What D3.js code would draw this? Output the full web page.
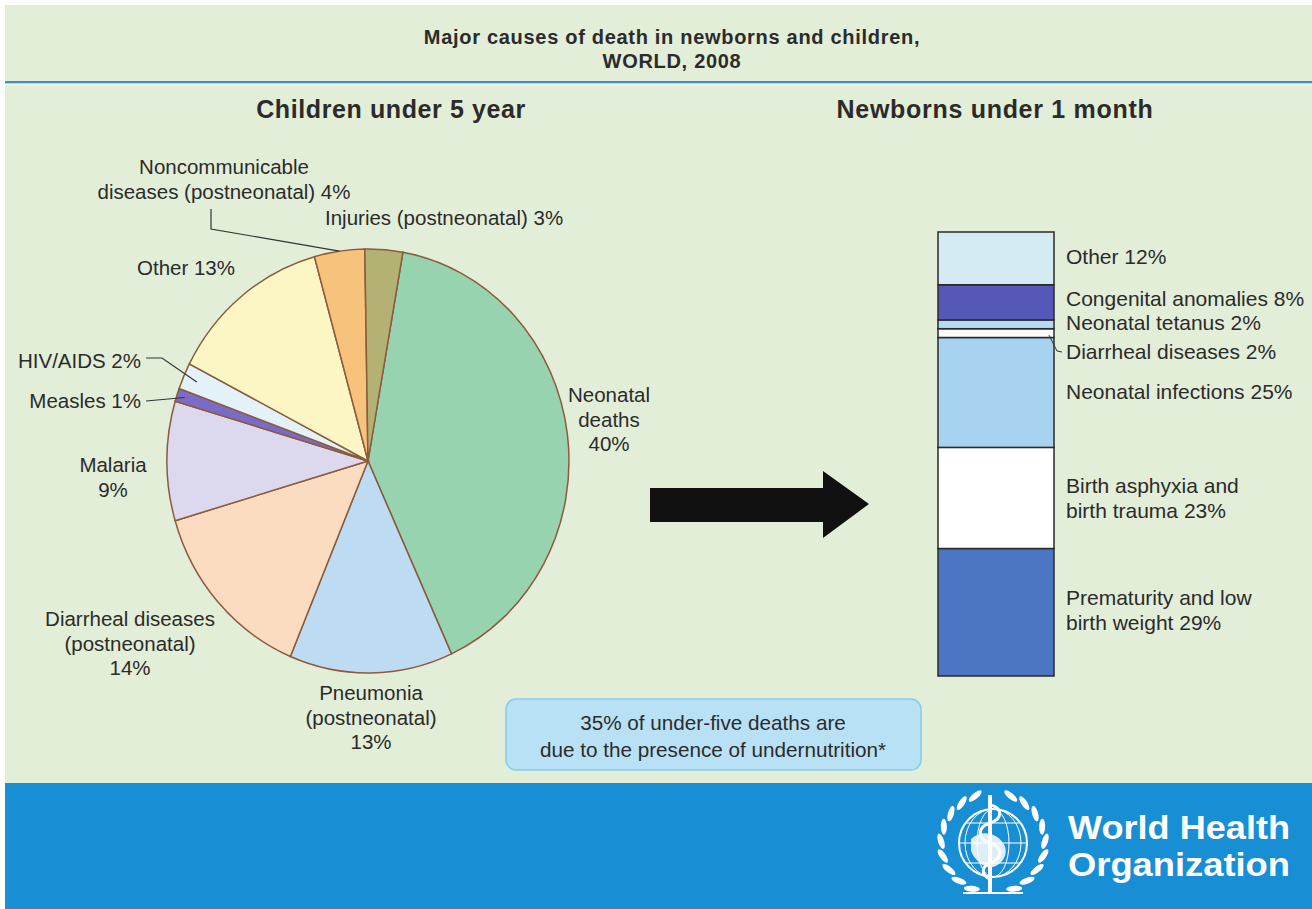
<!DOCTYPE html>
<html>
<head>
<meta charset="utf-8">
<script src="https://cdn.jsdelivr.net/npm/d3@7"></script>
<style>
  body { margin: 0; background: #ffffff; }
  svg { display: block; }
  text { font-family: "Liberation Sans", Arial, sans-serif; fill: #2b2b2b; }
</style>
</head>
<body>
<div id="chart"></div>
<script>
// chart size
var svgWidth = 1312;
var svgHeight = 909;

// Children under 5 (pie), clockwise from the top
var pieCauses = ["Neonatal deaths", "Pneumonia (postneonatal)", "Diarrheal diseases (postneonatal)", "Malaria",
  "Measles", "HIV/AIDS", "Other", "Noncommunicable diseases (postneonatal)", "Injuries (postneonatal)"];
var pieValues = [40, 13, 14, 9, 1, 2, 13, 4, 3];
var pieColors = ["#96d3ae", "#bddcf3", "#fcdcc1", "#dcd9ee", "#7a6bc6", "#e2f2f8", "#fcf6c4", "#f7c27c", "#b3b173"];
var pieLabels = [["Neonatal", "deaths", "40%"], ["Pneumonia", "(postneonatal)", "13%"],
  ["Diarrheal diseases", "(postneonatal)", "14%"], ["Malaria", "9%"], ["Measles 1%"], ["HIV/AIDS 2%"],
  ["Other 13%"], ["Noncommunicable", "diseases (postneonatal) 4%"], ["Injuries (postneonatal) 3%"]];

// Newborns under 1 month (stacked bar), bottom to top
var barCauses = ["Prematurity and low birth weight", "Birth asphyxia and birth trauma", "Neonatal infections",
  "Diarrheal diseases", "Neonatal tetanus", "Congenital anomalies", "Other"];
var barValues = [29, 23, 25, 2, 2, 8, 12];
var barColors = ["#4c76c3", "#ffffff", "#a7d3f1", "#fbfbfb", "#b4dbf3", "#5558b6", "#d5ebf3"];
var barLabels = [["Prematurity and low", "birth weight 29%"], ["Birth asphyxia and", "birth trauma 23%"],
  ["Neonatal infections 25%"], ["Diarrheal diseases 2%"], ["Neonatal tetanus 2%"],
  ["Congenital anomalies 8%"], ["Other 12%"]];

var svg = d3.select("#chart")
  .append("svg")
  .attr("width", svgWidth)
  .attr("height", svgHeight);

// background, title strip and blue footer
svg.append("rect").attr("x", 5).attr("y", 5).attr("width", svgWidth - 5).attr("height", 778).attr("fill", "#e3eed8");
svg.append("rect").attr("x", 5).attr("y", 81).attr("width", svgWidth - 5).attr("height", 2.5).attr("fill", "#3d8fd2");
svg.append("rect").attr("x", 5).attr("y", 83.5).attr("width", svgWidth - 5).attr("height", 2).attr("fill", "#eef5ea");
svg.append("rect").attr("x", 5).attr("y", 783).attr("width", svgWidth - 5).attr("height", svgHeight - 783).attr("fill", "#188ed4");

var title = svg.append("text")
  .attr("text-anchor", "middle")
  .style("font-weight", "bold")
  .style("font-size", "20px")
  .style("letter-spacing", "0.7px");
title.append("tspan").attr("x", 672).attr("y", 44).text("Major causes of death in newborns and children,");
title.append("tspan").attr("x", 672).attr("y", 68).text("WORLD, 2008");

svg.append("text").attr("x", 391).attr("y", 118).attr("text-anchor", "middle")
  .style("font-weight", "bold").style("font-size", "25px").style("letter-spacing", "0.6px")
  .text("Children under 5 year");
svg.append("text").attr("x", 995).attr("y", 118).attr("text-anchor", "middle")
  .style("font-weight", "bold").style("font-size", "25px").style("letter-spacing", "0.7px")
  .text("Newborns under 1 month");

// ---- pie ----
var cx = 368, cy = 461, rx = 201, ry = 212;
var startA = 10 * Math.PI / 180;

var pie = d3.pie().sort(null).value(d => d)
  .startAngle(startA).endAngle(startA + 2 * Math.PI);
var arcs = pie(pieValues);
var arc = d3.arc().innerRadius(0).outerRadius(ry);

var pieGroup = svg.append("g")
  .attr("transform", `translate(${cx}, ${cy}) scale(${rx / ry}, 1)`);

pieGroup.selectAll("path")
  .data(arcs)
  .enter()
  .append("path")
  .attr("d", arc)
  .attr("fill", (d, i) => pieColors[i])
  .attr("stroke", "#8b5b3c")
  .attr("stroke-width", 1.5)
  .attr("vector-effect", "non-scaling-stroke");

// point on the ellipse edge for a slice
function edgePoint(i, k) {
  var a = (arcs[i].startAngle + arcs[i].endAngle) / 2;
  return [cx + k * rx * Math.sin(a), cy - k * ry * Math.cos(a)];
}

// label layout: x, first baseline, anchor
var pieLabelPos = [[609, 402, "middle"], [371, 700, "middle"], [130, 626, "middle"], [113, 472, "middle"],
  [141, 408, "end"], [141, 368, "end"], [186, 275, "middle"], [224, 174, "middle"], [325, 225, "start"]];

pieLabels.forEach(function(lines, i) {
  var p = pieLabelPos[i];
  var t = svg.append("text")
    .attr("text-anchor", p[2])
    .style("font-size", "20.5px");
  lines.forEach(function(line, j) {
    t.append("tspan").attr("x", p[0]).attr("y", p[1] + j * 24.5).text(line);
  });
});

// leader lines
var hiv = edgePoint(5, 0.93);
var measles = edgePoint(4, 0.96);
var noncomm = edgePoint(7, 1.0);
var leader = d3.line();
svg.append("path").attr("d", leader([[146, 358], [162, 358], hiv]))
  .attr("fill", "none").attr("stroke", "#333").attr("stroke-width", 1.2);
svg.append("path").attr("d", leader([[146, 401], measles]))
  .attr("fill", "none").attr("stroke", "#333").attr("stroke-width", 1.2);
svg.append("path").attr("d", leader([[211, 209], [211, 229], noncomm]))
  .attr("fill", "none").attr("stroke", "#333").attr("stroke-width", 1.2);

// ---- arrow ----
svg.append("path")
  .attr("d", "M650,488 L823,488 L823,471 L869,504 L823,538 L823,522 L650,522 Z")
  .attr("fill", "#111");

// ---- stacked bar ----
var row = {};
barCauses.forEach((c, i) => row[c] = barValues[i]);
var series = d3.stack().keys(barCauses)([row]);

var yScale = d3.scaleLinear()
  .domain([0, d3.sum(barValues)])
  .range([676, 232]);
var xScale = d3.scaleBand()
  .domain(["Newborns"])
  .range([938, 1054]);

svg.append("g").selectAll("rect")
  .data(series)
  .enter()
  .append("rect")
  .attr("x", xScale("Newborns"))
  .attr("width", xScale.bandwidth())
  .attr("y", d => yScale(d[0][1]))
  .attr("height", d => yScale(d[0][0]) - yScale(d[0][1]))
  .attr("fill", (d, i) => barColors[i])
  .attr("stroke", "#2a2a2a")
  .attr("stroke-width", 1.5);

var barLabelY = [605, 493, 399, 359, 330, 306, 264];
barLabels.forEach(function(lines, i) {
  var t = svg.append("text").style("font-size", "21px");
  lines.forEach(function(line, j) {
    t.append("tspan").attr("x", 1066).attr("y", barLabelY[i] + j * 25).text(line);
  });
});

// little hook for diarrheal diseases
var dSeg = series[3][0];
var dMid = (yScale(dSeg[0]) + yScale(dSeg[1])) / 2;
svg.append("path")
  .attr("d", leader([[1049, dMid + 2], [1057, 351], [1062, 352]]))
  .attr("fill", "none").attr("stroke", "#333").attr("stroke-width", 1);

// ---- undernutrition note ----
svg.append("rect")
  .attr("x", 506).attr("y", 699).attr("width", 415).attr("height", 71)
  .attr("rx", 10)
  .attr("fill", "#b9e1f6")
  .attr("stroke", "#86ccef")
  .attr("stroke-width", 1.5);
var note = svg.append("text").attr("text-anchor", "middle").style("font-size", "20.7px");
note.append("tspan").attr("x", 713).attr("y", 730).text("35% of under-five deaths are");
note.append("tspan").attr("x", 713).attr("y", 757).text("due to the presence of undernutrition*");

// ---- WHO logo ----
var logo = svg.append("g").attr("transform", "translate(993, 843)");
logo.append("circle").attr("r", 34).attr("fill", "none").attr("stroke", "#fff").attr("stroke-width", 2);
logo.append("ellipse").attr("rx", 16).attr("ry", 34).attr("fill", "none").attr("stroke", "#fff").attr("stroke-width", 1);
logo.append("ellipse").attr("rx", 28).attr("ry", 34).attr("fill", "none").attr("stroke", "#fff").attr("stroke-width", 1);
[-20, 0, 20].forEach(function(yy) {
  var w = Math.sqrt(34 * 34 - yy * yy);
  logo.append("line").attr("x1", -w).attr("x2", w).attr("y1", yy).attr("y2", yy)
    .attr("stroke", "#fff").attr("stroke-width", 1);
});
logo.append("path")
  .attr("d", "M-22,-4 C-12,-14 4,-10 10,0 C16,8 12,20 0,24 C-8,26 -18,18 -22,8 Z")
  .attr("fill", "#fff").attr("opacity", 0.85);
logo.append("line").attr("x1", -3).attr("x2", -3).attr("y1", -48).attr("y2", 50)
  .attr("stroke", "#fff").attr("stroke-width", 4);
logo.append("path")
  .attr("d", "M-3,-38 C10,-36 10,-24 -3,-20 C-16,-16 -16,-4 -3,0 C10,4 10,16 -3,20 C-12,24 -12,32 -3,36")
  .attr("fill", "none").attr("stroke", "#fff").attr("stroke-width", 3);
// laurel leaves
[-1, 1].forEach(function(side) {
  d3.range(0, 9).forEach(function(k) {
    var a = (-70 + k * 17) * Math.PI / 180;
    var lx = side * 52 * Math.cos(a), ly = 50 * Math.sin(a);
    logo.append("ellipse")
      .attr("rx", 3).attr("ry", 8)
      .attr("transform", `translate(${lx}, ${ly}) rotate(${side * (k * 17 - 70) + (side > 0 ? 20 : -20)})`)
      .attr("fill", "#fff");
  });
});
logo.append("path").attr("d", "M-30,50 L30,50").attr("stroke", "#fff").attr("stroke-width", 2);

svg.append("text").attr("x", 1068).attr("y", 839)
  .attr("textLength", 222).attr("lengthAdjust", "spacingAndGlyphs")
  .style("font-weight", "bold").style("font-size", "33px").style("fill", "#fff")
  .text("World Health");
svg.append("text").attr("x", 1068).attr("y", 876)
  .attr("textLength", 222).attr("lengthAdjust", "spacingAndGlyphs")
  .style("font-weight", "bold").style("font-size", "33px").style("fill", "#fff")
  .text("Organization");
</script>
</body>
</html>
